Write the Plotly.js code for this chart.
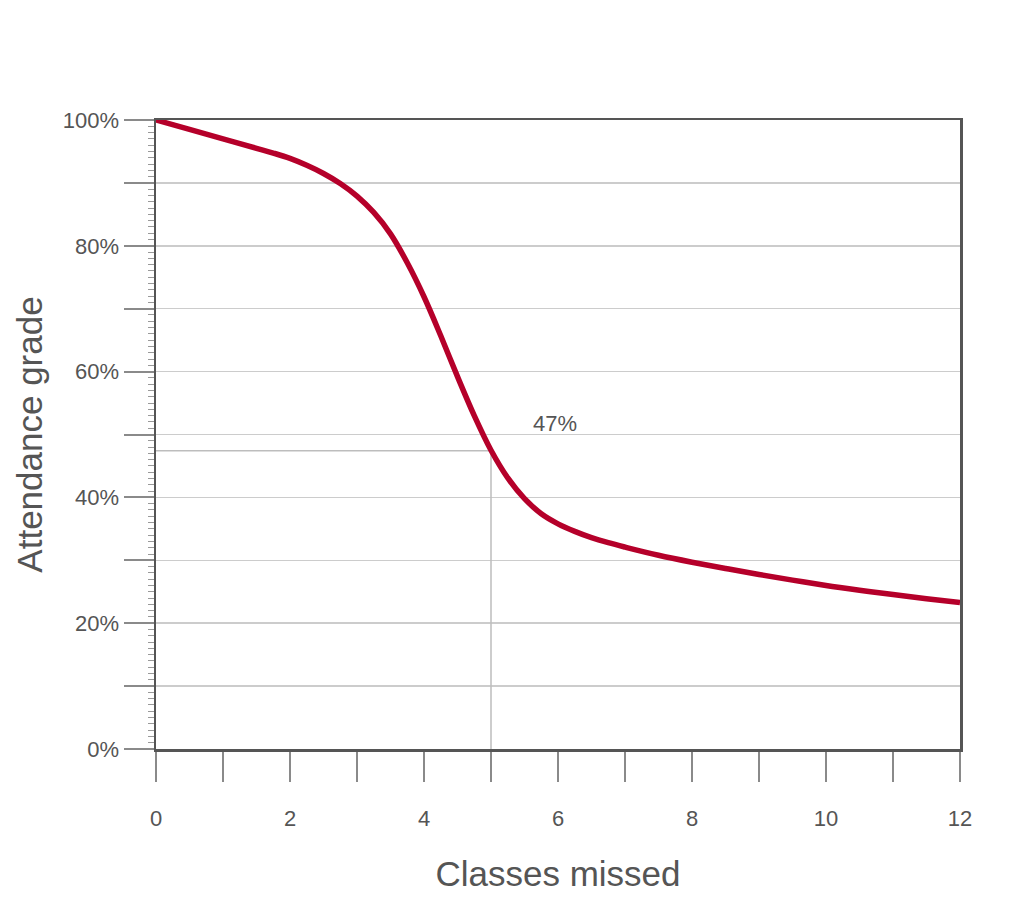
<!DOCTYPE html>
<html>
<head>
<meta charset="utf-8">
<script src="https://cdn.plot.ly/plotly-3.0.1.min.js"></script>
<style>
  body { margin: 0; background: #fff; }
  #chart { width: 1020px; height: 900px; }
</style>
</head>
<body>
<div id="chart"></div>
<script>
// curve
const classesMissed = [0, 0.5, 1, 1.5, 1.75, 2, 2.25, 2.5, 2.75, 3, 3.25, 3.5, 3.75, 4, 4.25, 4.5, 4.75, 5, 5.25, 5.5, 5.75, 6, 6.25, 6.5, 6.75, 7, 7.5, 8, 8.5, 9, 9.5, 10, 10.5, 11, 11.5, 12];
const gradeValues = [1.0, 0.985, 0.970, 0.955, 0.9475, 0.939, 0.928, 0.915, 0.899, 0.879, 0.853, 0.819, 0.773, 0.719, 0.657, 0.592, 0.530, 0.475, 0.431, 0.398, 0.374, 0.358, 0.346, 0.336, 0.328, 0.321, 0.308, 0.297, 0.287, 0.2775, 0.2685, 0.260, 0.2525, 0.2455, 0.239, 0.233];

// reference marker at 5 classes
const markerX = [0, 5, 5];
const markerY = [0.474, 0.474, 0];
const markerLabel = '47%';

const yTickVals = [0, 0.1, 0.2, 0.3, 0.4, 0.5, 0.6, 0.7, 0.8, 0.9, 1.0];
const yTickText = ['0%', '', '20%', '', '40%', '', '60%', '', '80%', '', '100%'];
const xTickVals = [0, 1, 2, 3, 4, 5, 6, 7, 8, 9, 10, 11, 12];
const xTickText = ['0', '', '2', '', '4', '', '6', '', '8', '', '10', '', '12'];

const textColor = '#555555';
const axisColor = '#555555';
const tickColor = '#8a8a8a';
const gridColor = '#cccccc';
const curveColor = '#b5002a';

const traces = [
  {
    x: markerX,
    y: markerY,
    type: 'scatter',
    mode: 'lines',
    line: { color: '#bdbdbd', width: 1.5 },
    hoverinfo: 'skip',
    showlegend: false
  },
  {
    x: classesMissed,
    y: gradeValues,
    type: 'scatter',
    mode: 'lines',
    line: { color: curveColor, width: 5.5, shape: 'spline', smoothing: 1 },
    showlegend: false
  }
];

const layout = {
  width: 1020,
  height: 900,
  margin: { l: 156, r: 60, t: 120, b: 151 },
  paper_bgcolor: '#ffffff',
  plot_bgcolor: '#ffffff',
  font: { family: 'Liberation Sans, Arial, sans-serif', color: textColor },
  xaxis: {
    range: [0, 12],
    tickvals: xTickVals,
    ticktext: xTickText,
    ticks: 'outside',
    ticklen: 30,
    tickwidth: 2,
    tickcolor: tickColor,
    ticklabelstandoff: 18,
    tickfont: { size: 22, color: textColor },
    showgrid: false,
    zeroline: false,
    showline: true,
    mirror: true,
    linecolor: axisColor,
    linewidth: 2.5,
    title: { text: 'Classes missed', font: { size: 35, color: textColor }, standoff: 32 }
  },
  yaxis: {
    range: [0, 1],
    tickvals: yTickVals,
    ticktext: yTickText,
    ticks: 'outside',
    ticklen: 30,
    tickwidth: 2,
    tickcolor: tickColor,
    tickfont: { size: 22, color: textColor },
    showgrid: true,
    gridcolor: gridColor,
    gridwidth: 1.5,
    zeroline: false,
    showline: true,
    mirror: true,
    linecolor: axisColor,
    linewidth: 2.5,
    minor: { dtick: 0.01, ticks: 'outside', ticklen: 6, tickwidth: 1, tickcolor: '#999999', showgrid: false },
    title: { text: 'Attendance grade', font: { size: 35, color: textColor }, standoff: 10 }
  },
  annotations: [
    {
      x: 5.96,
      y: 0.518,
      xref: 'x',
      yref: 'y',
      text: markerLabel,
      showarrow: false,
      font: { size: 22, color: textColor }
    }
  ]
};

Plotly.newPlot('chart', traces, layout, { displayModeBar: false, staticPlot: true });
</script>
</body>
</html>
